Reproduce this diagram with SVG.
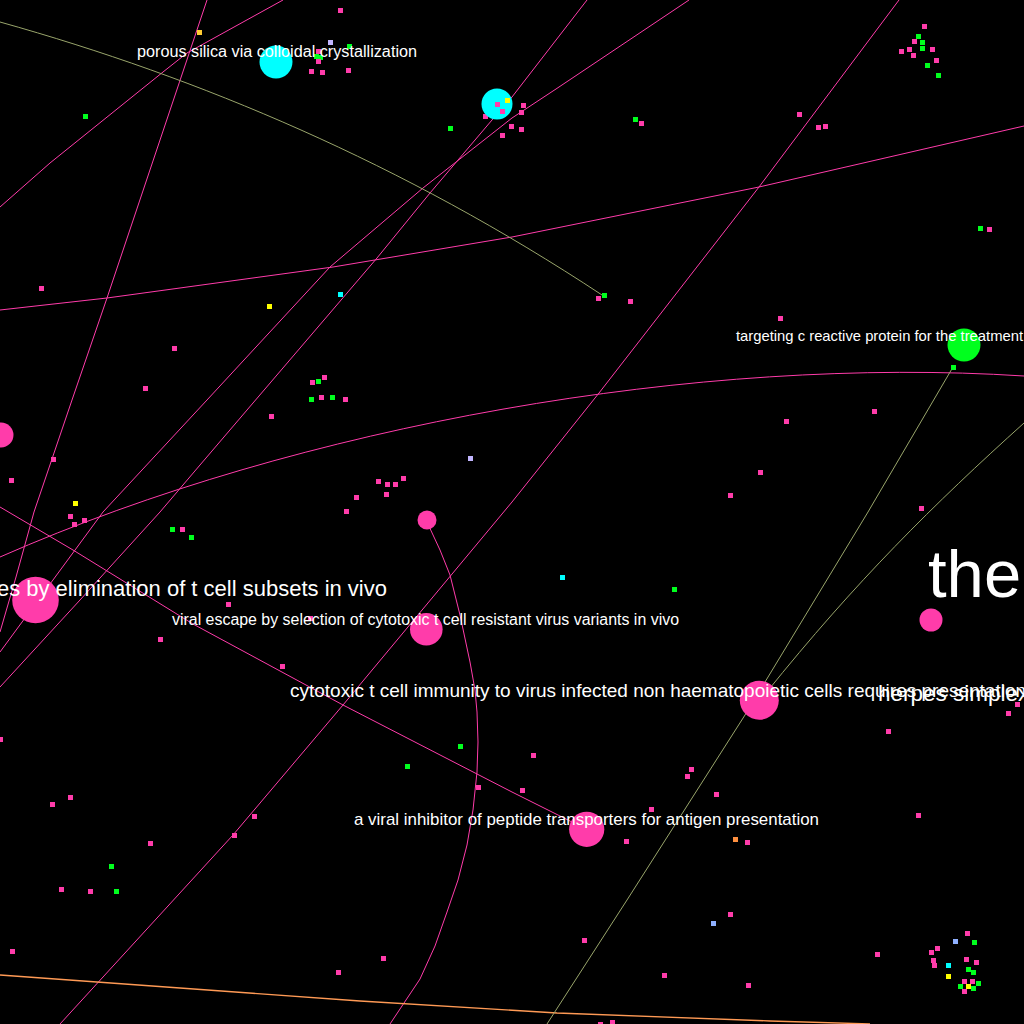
<svg xmlns="http://www.w3.org/2000/svg" xmlns:xlink="http://www.w3.org/1999/xlink" width="1024" height="1024" viewBox="0 0 1024 1024">
<defs>
<rect id="d" x="-2.5" y="-2.5" width="5" height="5"/>
</defs>
<style>
.e{fill:none;stroke:#ff3caa;stroke-width:1}
.ol{fill:none;stroke:#99a56b;stroke-width:1}
.or{fill:none;stroke:#ff9a55;stroke-width:1.3}
.p{fill:#ff3caa}
.g{fill:#00ff1e}
.y{fill:#ffff00}
.v{fill:#c2b6ff}
.c{fill:#00ffff}
.au{fill:#ffcc33}
.r{fill:#ff9040}
.b{fill:#8fb0ff}
text{font-family:"Liberation Sans",Arial,sans-serif;fill:#ffffff}
use{shape-rendering:crispEdges}
</style>
<rect width="1024" height="1024" fill="#000"/>
<g id="connectors">
<path class="e" d="M207,0 L107,298 L72,400 L34,512 L16,577 L0,632"/>
<path class="e" d="M283,0 L187,53 L163,72 L50,163 L0,207"/>
<path class="e" d="M0,310 L107,298 L333,267 L512,237 L759,187 L1024,126"/>
<path class="e" d="M0,557 C300,425 700,355 1024,376"/>
<path class="e" d="M587,0 L512,97 L492,120 L430,193 L377,258 L200,465 L160,512 L80,600 L0,687"/>
<path class="e" d="M689,0 L556,89 L512,118 L423,188 L330,267 L207,400 L103,512 L0,652"/>
<path class="e" d="M0,507 L73,550 L193,624 L343,705 L512,792 L586,829"/>
<path class="e" d="M427,522 L440,550 L450,575 L460,615 L470,662 L475,690 L477,712 L478,742 L477,772 L473,810 L467,845 L458,880 L447,912 L435,946 L420,979 L390,1024"/>
<path class="e" d="M899,0 L759,187 L599,393 L512,502 L343,705 L233,835 L60,1024"/>
<path class="or" d="M0,975 L360,1001 L557,1013 L770,1021 L870,1024"/>
<path class="ol" d="M0,22 C200,78 402,163 602,295"/>
<path class="ol" d="M953,367 L868,512 L765,682 L745,715 L627,900 L547,1024"/>
<path class="ol" d="M1024,423 C934,504 856,581 766,693"/>
</g>
<g id="dots">
<use href="#d" class="p" x="340" y="10"/><use href="#d" class="au" x="199" y="32"/><use href="#d" class="v" x="330" y="42"/><use href="#d" class="g" x="349" y="46"/>
<use href="#d" class="p" x="318" y="51"/><use href="#d" class="g" x="316" y="56"/><use href="#d" class="g" x="320" y="57"/><use href="#d" class="p" x="318" y="61"/>
<use href="#d" class="p" x="311" y="71"/><use href="#d" class="p" x="322" y="72"/><use href="#d" class="p" x="348" y="70"/><use href="#d" class="g" x="85" y="116"/>
<use href="#d" class="g" x="450" y="128"/><use href="#d" class="p" x="485" y="116"/>
<use href="#d" class="p" x="523" y="105"/><use href="#d" class="p" x="521" y="112"/><use href="#d" class="p" x="511" y="126"/><use href="#d" class="p" x="521" y="129"/><use href="#d" class="p" x="502" y="135"/>
<use href="#d" class="g" x="635" y="119"/><use href="#d" class="p" x="641" y="123"/><use href="#d" class="p" x="799" y="114"/><use href="#d" class="p" x="818" y="127"/><use href="#d" class="p" x="825" y="126"/>
<use href="#d" class="p" x="924" y="26"/><use href="#d" class="g" x="918" y="36"/><use href="#d" class="p" x="914" y="41"/><use href="#d" class="g" x="922" y="42"/><use href="#d" class="g" x="922" y="48"/><use href="#d" class="p" x="909" y="49"/>
<use href="#d" class="p" x="901" y="51"/><use href="#d" class="p" x="913" y="55"/><use href="#d" class="p" x="932" y="49"/><use href="#d" class="p" x="936" y="60"/><use href="#d" class="g" x="927" y="65"/><use href="#d" class="g" x="938" y="75"/>
<use href="#d" class="g" x="980" y="228"/><use href="#d" class="p" x="989" y="229"/>
<use href="#d" class="g" x="604" y="295"/><use href="#d" class="p" x="598" y="298"/><use href="#d" class="p" x="630" y="301"/><use href="#d" class="p" x="780" y="318"/>
<use href="#d" class="g" x="953" y="367"/><use href="#d" class="p" x="874" y="411"/><use href="#d" class="p" x="786" y="421"/><use href="#d" class="p" x="760" y="472"/><use href="#d" class="p" x="730" y="495"/><use href="#d" class="p" x="921" y="508"/>
<use href="#d" class="p" x="41" y="288"/><use href="#d" class="c" x="340" y="294"/><use href="#d" class="y" x="269" y="306"/><use href="#d" class="p" x="174" y="348"/><use href="#d" class="p" x="145" y="388"/>
<use href="#d" class="p" x="312" y="382"/><use href="#d" class="g" x="318" y="381"/><use href="#d" class="p" x="324" y="377"/><use href="#d" class="g" x="311" y="399"/><use href="#d" class="p" x="321" y="397"/><use href="#d" class="g" x="332" y="397"/><use href="#d" class="p" x="345" y="399"/>
<use href="#d" class="p" x="271" y="416"/><use href="#d" class="p" x="53" y="459"/><use href="#d" class="p" x="11" y="480"/><use href="#d" class="y" x="75" y="503"/><use href="#d" class="v" x="470" y="458"/>
<use href="#d" class="p" x="378" y="481"/><use href="#d" class="p" x="387" y="484"/><use href="#d" class="p" x="395" y="484"/><use href="#d" class="p" x="403" y="478"/><use href="#d" class="p" x="386" y="494"/><use href="#d" class="p" x="356" y="497"/><use href="#d" class="p" x="346" y="511"/>
<use href="#d" class="p" x="70" y="516"/><use href="#d" class="p" x="74" y="524"/><use href="#d" class="p" x="84" y="520"/><use href="#d" class="g" x="172" y="529"/><use href="#d" class="p" x="182" y="529"/><use href="#d" class="g" x="191" y="537"/>
<use href="#d" class="p" x="228" y="604"/><use href="#d" class="p" x="310" y="618"/><use href="#d" class="p" x="160" y="639"/><use href="#d" class="p" x="282" y="666"/><use href="#d" class="p" x="0" y="739"/>
<use href="#d" class="g" x="460" y="746"/><use href="#d" class="g" x="407" y="766"/><use href="#d" class="p" x="478" y="787"/><use href="#d" class="p" x="70" y="797"/><use href="#d" class="p" x="52" y="804"/>
<use href="#d" class="p" x="254" y="816"/><use href="#d" class="p" x="234" y="835"/><use href="#d" class="p" x="150" y="843"/><use href="#d" class="g" x="111" y="866"/><use href="#d" class="p" x="61" y="889"/><use href="#d" class="p" x="90" y="891"/><use href="#d" class="g" x="116" y="891"/>
<use href="#d" class="p" x="12" y="951"/><use href="#d" class="p" x="383" y="958"/><use href="#d" class="p" x="338" y="972"/>
<use href="#d" class="c" x="562" y="577"/><use href="#d" class="g" x="674" y="589"/><use href="#d" class="p" x="1017" y="704"/><use href="#d" class="p" x="1008" y="713"/><use href="#d" class="p" x="888" y="731"/>
<use href="#d" class="p" x="533" y="755"/><use href="#d" class="p" x="691" y="769"/><use href="#d" class="p" x="687" y="776"/><use href="#d" class="p" x="522" y="790"/><use href="#d" class="p" x="716" y="794"/><use href="#d" class="p" x="651" y="809"/><use href="#d" class="p" x="918" y="815"/>
<use href="#d" class="p" x="626" y="841"/><use href="#d" class="r" x="735" y="839"/><use href="#d" class="p" x="747" y="842"/>
<use href="#d" class="p" x="730" y="914"/><use href="#d" class="b" x="713" y="923"/><use href="#d" class="p" x="584" y="940"/><use href="#d" class="p" x="877" y="954"/><use href="#d" class="p" x="664" y="975"/><use href="#d" class="p" x="748" y="985"/><use href="#d" class="p" x="600" y="1024"/><use href="#d" class="p" x="612" y="1022"/>
<use href="#d" class="p" x="967" y="933"/><use href="#d" class="b" x="955" y="941"/><use href="#d" class="g" x="974" y="942"/><use href="#d" class="p" x="937" y="948"/><use href="#d" class="p" x="931" y="952"/><use href="#d" class="p" x="933" y="960"/><use href="#d" class="p" x="934" y="965"/>
<use href="#d" class="c" x="948" y="965"/><use href="#d" class="p" x="966" y="959"/><use href="#d" class="p" x="976" y="962"/><use href="#d" class="g" x="968" y="969"/><use href="#d" class="g" x="973" y="972"/><use href="#d" class="y" x="948" y="976"/>
<use href="#d" class="p" x="964" y="981"/><use href="#d" class="p" x="972" y="981"/><use href="#d" class="g" x="978" y="983"/><use href="#d" class="y" x="968" y="986"/><use href="#d" class="g" x="960" y="986"/><use href="#d" class="g" x="973" y="988"/><use href="#d" class="p" x="964" y="991"/>
</g>
<g id="n-porous"><circle class="c" cx="276" cy="62" r="16.5"/></g>
<g id="n-cyan2"><circle class="c" cx="497" cy="104" r="15.5"/><use href="#d" class="p" x="497" y="104"/><use href="#d" class="p" x="502" y="111"/><use href="#d" class="y" x="507" y="100"/></g>
<g id="n-targeting"><circle class="g" cx="964" cy="345" r="16.5"/></g>
<g id="n-left"><circle class="p" cx="1" cy="435" r="12.5"/></g>
<g id="n-small"><circle class="p" cx="427" cy="520" r="9.5"/></g>
<g id="n-elim"><circle class="p" cx="35.5" cy="600" r="23.3"/></g>
<g id="n-escape"><circle class="p" cx="426.3" cy="629.3" r="16.3"/></g>
<g id="n-the"><circle class="p" cx="931" cy="620" r="11.5"/></g>
<g id="n-cyto"><circle class="p" cx="759.3" cy="700.3" r="19.5"/></g>
<g id="n-inhib"><circle class="p" cx="586.7" cy="829.3" r="17.6"/></g>
<g id="labels">
<text x="137" y="57" font-size="16" textLength="280" lengthAdjust="spacingAndGlyphs">porous silica via colloidal crystallization</text>
<text x="736" y="341" font-size="14.8">targeting c reactive protein for the treatment of</text>
<text x="928" y="597" font-size="67">the</text>
<text x="387" y="596" font-size="22" text-anchor="end">es by elimination of t cell subsets in vivo</text>
<text x="172" y="625" font-size="16" textLength="507" lengthAdjust="spacingAndGlyphs">viral escape by selection of cytotoxic t cell resistant virus variants in vivo</text>
<text x="290" y="697" font-size="19">cytotoxic t cell immunity to virus infected non haematopoietic cells requires presentation</text>
<text x="878" y="701" font-size="22.5">herpes simplex</text>
<text x="354" y="825" font-size="17" textLength="465" lengthAdjust="spacingAndGlyphs">a viral inhibitor of peptide transporters for antigen presentation</text>
</g>
</svg>
